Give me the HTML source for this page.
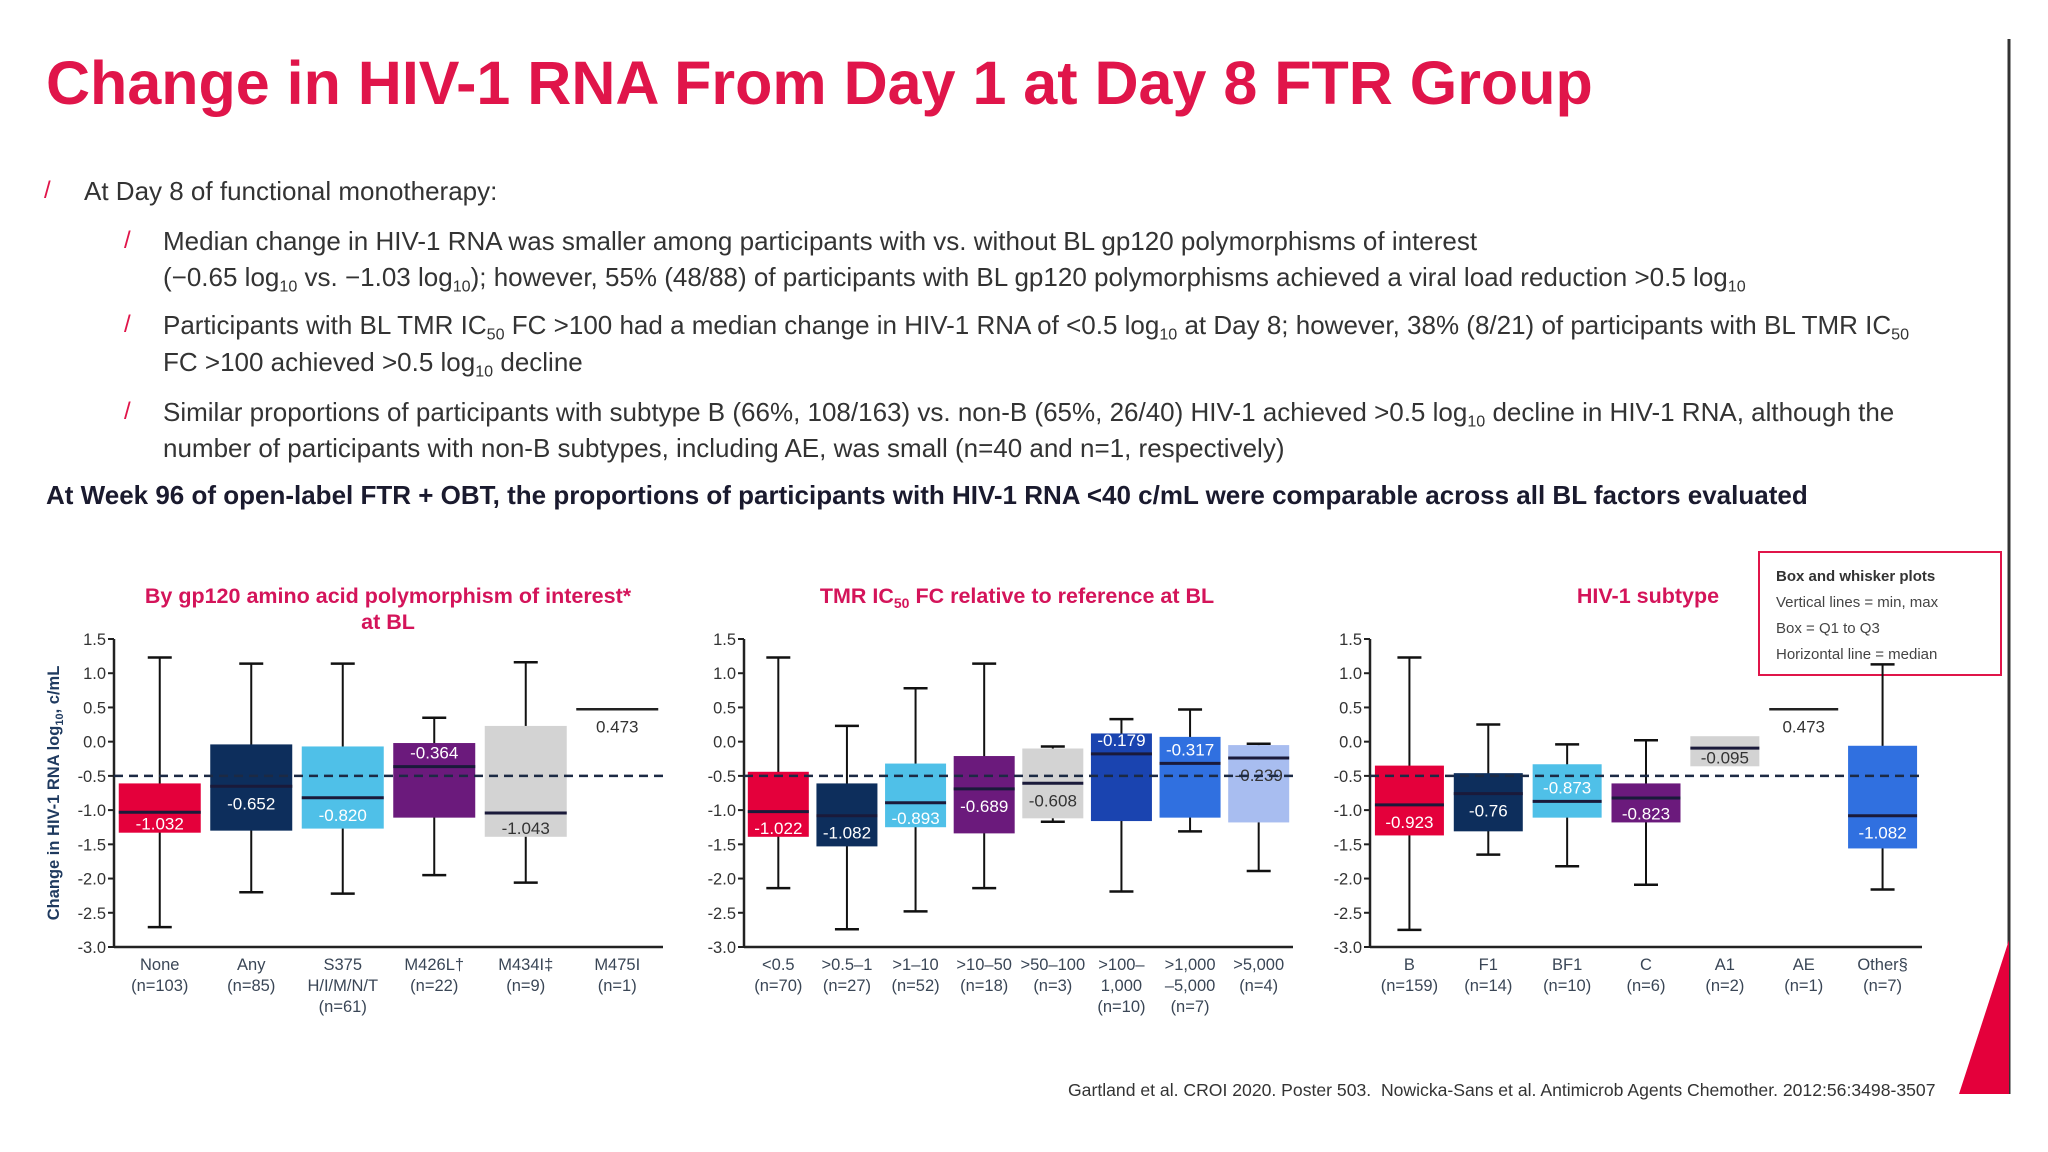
<!DOCTYPE html>
<html><head><meta charset="utf-8">
<style>
html,body{margin:0;padding:0;background:#fff;}
body{width:2048px;height:1152px;position:relative;overflow:hidden;font-family:"Liberation Sans",Arial,sans-serif;color:#333;}
.t{position:absolute;white-space:nowrap;}
h1{position:absolute;left:46px;top:48px;margin:0;font-size:61px;font-weight:bold;color:#e0154a;white-space:nowrap;}
.b{font-size:26px;}
.sl{color:#e0154a;font-size:24px;}
sub{font-size:0.62em;vertical-align:-0.35em;line-height:0;}
</style></head><body>
<h1>Change in HIV-1 RNA From Day 1 at Day 8 FTR Group</h1>
<div class="t sl" style="left:44px;top:177px">/</div>
<div class="t b" style="left:84px;top:176px">At Day 8 of functional monotherapy:</div>
<div class="t sl" style="left:124px;top:227px">/</div>
<div class="t b" style="left:163px;top:226px">Median change in HIV-1 RNA was smaller among participants with vs. without BL gp120 polymorphisms of interest</div>
<div class="t b" style="left:163px;top:262px">(−0.65 log<sub>10</sub> vs. −1.03 log<sub>10</sub>); however, 55% (48/88) of participants with BL gp120 polymorphisms achieved a viral load reduction &gt;0.5 log<sub>10</sub></div>
<div class="t sl" style="left:124px;top:311px">/</div>
<div class="t b" style="left:163px;top:310px">Participants with BL TMR IC<sub>50</sub> FC &gt;100 had a median change in HIV-1 RNA of &lt;0.5 log<sub>10</sub> at Day 8; however, 38% (8/21) of participants with BL TMR IC<sub>50</sub></div>
<div class="t b" style="left:163px;top:347px">FC &gt;100 achieved &gt;0.5 log<sub>10</sub> decline</div>
<div class="t sl" style="left:124px;top:398px">/</div>
<div class="t b" style="left:163px;top:397px">Similar proportions of participants with subtype B (66%, 108/163) vs. non-B (65%, 26/40) HIV-1 achieved &gt;0.5 log<sub>10</sub> decline in HIV-1 RNA, although the</div>
<div class="t b" style="left:163px;top:433px">number of participants with non-B subtypes, including AE, was small (n=40 and n=1, respectively)</div>
<div class="t" style="left:46px;top:480px;font-size:26px;font-weight:bold;color:#1a1a2e">At Week 96 of open-label FTR + OBT, the proportions of participants with HIV-1 RNA &lt;40 c/mL were comparable across all BL factors evaluated</div>
<div class="t" style="left:1068px;top:1080px;font-size:17.6px;color:#333">Gartland et al. CROI 2020. Poster 503.&nbsp; Nowicka-Sans et al. Antimicrob Agents Chemother. 2012:56:3498-3507</div>

<svg id="chart" width="2048" height="1152" style="position:absolute;left:0;top:0" xmlns="http://www.w3.org/2000/svg">
  <line x1="2009" y1="39" x2="2009" y2="1094" stroke="#333" stroke-width="3"/>
  <polygon points="2009,940 2009,1094 1959,1094" fill="#e4003b"/>
  <rect x="1759" y="552" width="242" height="123" fill="#fff" stroke="#e0154a" stroke-width="2"/>
  <text x="1776" y="581" font-size="15" font-weight="bold" fill="#333">Box and whisker plots</text>
  <text x="1776" y="607" font-size="15" fill="#444">Vertical lines = min, max</text>
  <text x="1776" y="633" font-size="15" fill="#444">Box = Q1 to Q3</text>
  <text x="1776" y="659" font-size="15" fill="#444">Horizontal line = median</text>
  <text transform="translate(59,793) rotate(-90)" text-anchor="middle" font-size="16.5" font-weight="bold" fill="#1f3a5f">Change in HIV-1 RNA log<tspan font-size="11" dy="4">10</tspan><tspan dy="-4">, c/mL</tspan></text>
</svg>

<script>
// Chart 1: gp120 polymorphism
const c1Cats = [["None","(n=103)"],["Any","(n=85)"],["S375","H/I/M/N/T","(n=61)"],["M426L\u2020","(n=22)"],["M434I\u2021","(n=9)"],["M475I","(n=1)"]];
const c1Min = [-2.71,-2.20,-2.22,-1.95,-2.06,null];
const c1Q1 = [-1.33,-1.30,-1.27,-1.11,-1.39,null];
const c1Med = [-1.032,-0.652,-0.820,-0.364,-1.043,0.473];
const c1Q3 = [-0.61,-0.04,-0.07,-0.02,0.23,null];
const c1Max = [1.23,1.14,1.14,0.35,1.16,null];
const c1LabelAbove = [false,false,false,true,false,false];
const c1Labels = ["-1.032","-0.652","-0.820","-0.364","-1.043","0.473"];
// Chart 2: TMR IC50 FC
const c2Cats = [["<0.5","(n=70)"],[">0.5\u20131","(n=27)"],[">1\u201310","(n=52)"],[">10\u201350","(n=18)"],[">50\u2013100","(n=3)"],[">100\u2013","1,000","(n=10)"],[">1,000","\u20135,000","(n=7)"],[">5,000","(n=4)"]];
const c2Min = [-2.14,-2.74,-2.48,-2.14,-1.17,-2.19,-1.31,-1.89];
const c2Q1 = [-1.39,-1.53,-1.25,-1.34,-1.12,-1.16,-1.11,-1.18];
const c2Med = [-1.022,-1.082,-0.893,-0.689,-0.608,-0.179,-0.317,-0.239];
const c2Q3 = [-0.44,-0.61,-0.32,-0.21,-0.10,0.12,0.07,-0.05];
const c2Max = [1.23,0.23,0.78,1.14,-0.07,0.33,0.47,-0.03];
const c2LabelAbove = [false,false,false,false,false,true,true,false];
const c2Labels = ["-1.022","-1.082","-0.893","-0.689","-0.608","-0.179","-0.317","-0.239"];
// Chart 3: HIV-1 subtype
const c3Cats = [["B","(n=159)"],["F1","(n=14)"],["BF1","(n=10)"],["C","(n=6)"],["A1","(n=2)"],["AE","(n=1)"],["Other\u00a7","(n=7)"]];
const c3Min = [-2.75,-1.65,-1.82,-2.09,null,null,-2.16];
const c3Q1 = [-1.37,-1.31,-1.11,-1.18,-0.36,null,-1.56];
const c3Med = [-0.923,-0.76,-0.873,-0.823,-0.095,0.473,-1.082];
const c3Q3 = [-0.35,-0.46,-0.33,-0.61,0.08,null,-0.06];
const c3Max = [1.23,0.25,-0.04,0.02,null,null,1.13];
const c3LabelAbove = [false,false,true,false,false,false,false];
const c3Labels = ["-0.923","-0.76","-0.873","-0.823","-0.095","0.473","-1.082"];
const yTicks = [1.5,1.0,0.5,0.0,-0.5,-1.0,-1.5,-2.0,-2.5,-3.0];
const refLine = -0.5;

const NS = "http://www.w3.org/2000/svg";
const svg = document.getElementById('chart');
function mk(tag, attrs, parent){ const e=document.createElementNS(NS,tag); for(const k in attrs) e.setAttribute(k,attrs[k]); (parent||svg).appendChild(e); return e; }
function fmt(v){ return v.toFixed(1); }

function drawChart(cfg){
  const g = mk('g',{});
  
  
  const yMin=-3, yMax=1.5, top=639, bot=947;
  const y = v => top + (yMax - v)/(yMax - yMin)*(bot-top);
  const n = cfg.cats.length, band=(cfg.x1-cfg.x0)/n;
  const x = i => cfg.x0 + band*(i+0.5);
  cfg.title.forEach((t,k)=>{
    const tt = mk('text',{x:cfg.tx,y:603+k*26,'text-anchor':'middle','font-size':21.5,'font-weight':'bold',fill:'#d4145a'},g);
    tt.innerHTML = t;
    
    
  });
  const ya = mk('line',{x1:cfg.x0,y1:top,x2:cfg.x0,y2:bot,stroke:'#222','stroke-width':2.5},g);
  
  
  const xa = mk('line',{x1:cfg.x0,y1:bot,x2:cfg.x1,y2:bot,stroke:'#222','stroke-width':2.5},g);
  
  
  yTicks.forEach(v=>{
    mk('line',{x1:cfg.x0-6,y1:y(v),x2:cfg.x0,y2:y(v),stroke:'#222','stroke-width':2},g);
    const tl = mk('text',{x:cfg.x0-8,y:y(v)+6,'text-anchor':'end','font-size':16.5,fill:'#333'},g);
    tl.textContent = fmt(v);
    
    
  });
  for(let i=0;i<n;i++){
    const cx=x(i), w=cfg.bw;
    const bg = mk('g',{},g);
    
    
    if(cfg.max[i]!==null){
      mk('line',{x1:cx,y1:y(cfg.max[i]),x2:cx,y2:y(cfg.min[i]),stroke:'#111','stroke-width':2},bg);
      mk('line',{x1:cx-12,y1:y(cfg.max[i]),x2:cx+12,y2:y(cfg.max[i]),stroke:'#111','stroke-width':2.5},bg);
      mk('line',{x1:cx-12,y1:y(cfg.min[i]),x2:cx+12,y2:y(cfg.min[i]),stroke:'#111','stroke-width':2.5},bg);
    }
    const hasBox = cfg.q1[i]!==null;
    if(hasBox){
      mk('rect',{x:cx-w/2,y:y(cfg.q3[i]),width:w,height:y(cfg.q1[i])-y(cfg.q3[i]),fill:cfg.colors[i]},bg);
    }
    mk('line',{x1:cx-w/2,y1:y(cfg.med[i]),x2:cx+w/2,y2:y(cfg.med[i]),stroke:hasBox?'#1a1a3a':'#222','stroke-width':hasBox?3:2.5},bg);
    let ly = cfg.above[i] ? y(cfg.med[i])-8 : y(cfg.med[i])+23;
    if(hasBox && !cfg.above[i]) ly = Math.min(ly, y(cfg.q1[i])-3);
    const lbl = mk('text',{x:cx,y:ly,'text-anchor':'middle','font-size':17,fill:hasBox?cfg.lblColors[i]:'#333'},bg);
    lbl.textContent = cfg.labels[i];
    
    
    cfg.cats[i].forEach((s,k)=>{
      const c = mk('text',{x:cx,y:970+k*21,'text-anchor':'middle','font-size':16.5,fill:'#3a4656'},g);
      c.textContent = s;
      
      
    });
  }
  const rl = mk('line',{x1:cfg.x0,y1:y(refLine),x2:cfg.x1,y2:y(refLine),stroke:'#1c2a44','stroke-width':2.5,'stroke-dasharray':'9,6'},g);
  
  
}
const W='#fff';
drawChart({name:'chart-gp120-polymorphism',x0:114,x1:663,bw:82,tx:388,title:['By gp120 amino acid polymorphism of interest*','at BL'],
  cats:c1Cats,min:c1Min,q1:c1Q1,med:c1Med,q3:c1Q3,max:c1Max,above:c1LabelAbove,labels:c1Labels,
  colors:['#e4003b','#0d2e5c','#4fc0e8','#6b1a7c','#d3d3d3',null],lblColors:[W,W,W,W,'#333',W]});
drawChart({name:'chart-tmr-ic50-fc',x0:744,x1:1293,bw:61,tx:1017,title:['TMR IC<tspan font-size="14" dy="5">50</tspan><tspan dy="-5"> FC relative to reference at BL</tspan>'],
  cats:c2Cats,min:c2Min,q1:c2Q1,med:c2Med,q3:c2Q3,max:c2Max,above:c2LabelAbove,labels:c2Labels,
  colors:['#e4003b','#0d2e5c','#4fc0e8','#6b1a7c','#d3d3d3','#1a44b0','#3070e0','#a8bdf0'],lblColors:[W,W,W,W,'#333',W,W,'#333']});
drawChart({name:'chart-hiv1-subtype',x0:1370,x1:1922,bw:69,tx:1648,title:['HIV-1 subtype'],
  cats:c3Cats,min:c3Min,q1:c3Q1,med:c3Med,q3:c3Q3,max:c3Max,above:c3LabelAbove,labels:c3Labels,
  colors:['#e4003b','#0d2e5c','#4fc0e8','#6b1a7c','#d3d3d3',null,'#3070e0'],lblColors:[W,W,W,W,'#333',W,W]});
</script>
</body></html>
